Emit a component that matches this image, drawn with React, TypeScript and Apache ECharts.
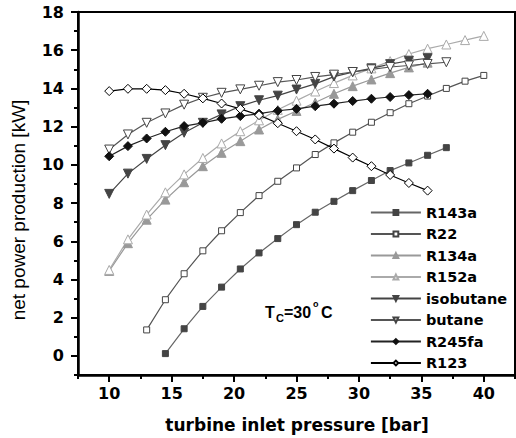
import React, { useEffect, useRef } from "react";
import * as echarts from "echarts";

// ---- data ----
const X_R143A = [14.5, 16, 17.5, 19, 20.5, 22, 23.5, 25, 26.5, 28, 29.5, 31, 32.5, 34, 35.5, 37];
const Y_R143A = [0.12, 1.42, 2.59, 3.6, 4.55, 5.39, 6.14, 6.87, 7.52, 8.09, 8.65, 9.18, 9.7, 10.1, 10.5, 10.9];

const X_R22 = [13, 14.5, 16, 17.5, 19, 20.5, 22, 23.5, 25, 26.5, 28, 29.5, 31, 32.5, 34, 35.5, 37, 38.5, 40];
const Y_R22 = [1.36, 2.94, 4.3, 5.5, 6.55, 7.5, 8.39, 9.14, 9.84, 10.54, 11.15, 11.71, 12.23, 12.73, 13.2, 13.6, 14.0, 14.38, 14.68];

const X_R134A = [10, 11.5, 13, 14.5, 16, 17.5, 19, 20.5, 22, 23.5, 25, 26.5, 28, 29.5, 31, 32.5, 34, 35.5];
const Y_R134A = [4.45, 5.9, 7.13, 8.18, 9.09, 9.93, 10.63, 11.24, 11.85, 12.38, 12.82, 13.26, 13.72, 14.12, 14.47, 14.8, 15.1, 15.35];

const X_R152A = [10, 11.5, 13, 14.5, 16, 17.5, 19, 20.5, 22, 23.5, 25, 26.5, 28, 29.5, 31, 32.5, 34, 35.5, 37, 38.5, 40];
const Y_R152A = [4.5, 6.1, 7.4, 8.56, 9.5, 10.36, 11.12, 11.76, 12.33, 12.88, 13.36, 13.84, 14.28, 14.68, 15.05, 15.43, 15.8, 16.08, 16.3, 16.53, 16.75];

const X_ISOBUTANE = [10, 11.5, 13, 14.5, 16, 17.5, 19, 20.5, 22, 23.5, 25, 26.5, 28, 29.5, 31, 32.5, 34, 35.5];
const Y_ISOBUTANE = [8.48, 9.54, 10.31, 11.03, 11.68, 12.2, 12.64, 13.07, 13.38, 13.62, 13.94, 14.24, 14.62, 14.85, 15.05, 15.27, 15.45, 15.58];

const X_BUTANE = [10, 11.5, 13, 14.5, 16, 17.5, 19, 20.5, 22, 23.5, 25, 26.5, 28, 29.5, 31, 32.5, 34, 35.5, 37];
const Y_BUTANE = [10.8, 11.59, 12.2, 12.69, 13.15, 13.51, 13.77, 13.95, 14.14, 14.33, 14.44, 14.6, 14.72, 14.86, 15.0, 15.12, 15.2, 15.28, 15.37];

const X_R245FA = [10, 11.5, 13, 14.5, 16, 17.5, 19, 20.5, 22, 23.5, 25, 26.5, 28, 29.5, 31, 32.5, 34, 35.5];
const Y_R245FA = [10.45, 10.98, 11.38, 11.73, 12.03, 12.2, 12.41, 12.55, 12.68, 12.83, 12.93, 13.07, 13.2, 13.34, 13.46, 13.55, 13.65, 13.72];

const X_R123 = [10, 11.5, 13, 14.5, 16, 17.5, 19, 20.5, 22, 23.5, 25, 26.5, 28, 29.5, 31, 32.5, 34, 35.5];
const Y_R123 = [13.86, 13.98, 13.98, 13.91, 13.72, 13.48, 13.21, 12.93, 12.6, 12.18, 11.76, 11.33, 10.85, 10.38, 9.93, 9.47, 9.05, 8.65];

const SERIES_NAMES = ["R143a", "R22", "R134a", "R152a", "isobutane", "butane", "R245fa", "R123"];

const X_TITLE = "turbine inlet pressure [bar]";
const Y_TITLE = "net power production [kW]";

const DOWN_TRI = "path://M0,0L10,0L5,10Z";

function pairs(xs: number[], ys: number[]) {
  return xs.map((x, i) => [x, ys[i]]);
}

export default function App() {
  const ref = useRef<HTMLDivElement>(null);

  useEffect(() => {
    if (!ref.current) return;
    const chart = echarts.init(ref.current, null, { renderer: "svg" });

    const tickFont = { fontFamily: "DejaVu Sans", fontWeight: "bold" as const, fontSize: 16, color: "#000" };

    const mk = (
      name: string,
      xs: number[],
      ys: number[],
      symbol: string,
      size: number,
      fill: string,
      border: string,
      line: string
    ) => ({
      name,
      type: "line",
      xAxisIndex: 0,
      yAxisIndex: 0,
      data: pairs(xs, ys),
      symbol,
      symbolSize: size,
      showAllSymbol: true,
      itemStyle: { color: fill, borderColor: border, borderWidth: 1 },
      lineStyle: { color: line, width: 1.2 },
      emphasis: { disabled: true },
    });

    const ppu = (516 - 78 - 1) / 35;
    const ppv = (438 - 12 - 63) / 19;

    chart.setOption({
      animation: false,
      grid: [
        { left: 78, right: 1, top: 12, bottom: 63, show: true, borderColor: "#000", borderWidth: 2 },
        { left: 78 + 2.5 * ppu, right: 1 + 2.5 * ppu, top: 12, bottom: 63 + ppv, show: false },
      ],
      xAxis: [
        {
          gridIndex: 0,
          type: "value",
          min: 7.5,
          max: 42.5,
          interval: 2.5,
          axisLine: { show: true, onZero: false, lineStyle: { color: "#000", width: 2.5 } },
          axisTick: { show: true, length: 4, lineStyle: { color: "#000", width: 2 } },
          axisLabel: { show: false },
          splitLine: { show: false },
        },
        {
          gridIndex: 1,
          type: "value",
          min: 10,
          max: 40,
          interval: 5,
          offset: ppv,
          axisLine: { show: false, onZero: false },
          axisTick: { show: true, length: 7, lineStyle: { color: "#000", width: 2 } },
          axisLabel: { show: true, margin: 10, ...tickFont },
          splitLine: { show: false },
        },
      ],
      yAxis: [
        {
          gridIndex: 0,
          type: "value",
          min: -1,
          max: 18,
          interval: 1,
          axisLine: { show: true, onZero: false, lineStyle: { color: "#000", width: 2.5 } },
          axisTick: { show: true, length: 4, lineStyle: { color: "#000", width: 2 } },
          axisLabel: { show: false },
          splitLine: { show: false },
        },
        {
          gridIndex: 1,
          type: "value",
          min: 0,
          max: 18,
          interval: 2,
          offset: 2.5 * ppu,
          axisLine: { show: false, onZero: false },
          axisTick: { show: true, length: 7, lineStyle: { color: "#000", width: 2 } },
          axisLabel: { show: true, margin: 14, ...tickFont },
          splitLine: { show: false },
        },
      ],
      legend: {
        orient: "vertical",
        left: 370,
        top: 205,
        padding: 0,
        itemWidth: 50,
        itemHeight: 6,
        itemGap: 6.5,
        data: SERIES_NAMES,
        lineStyle: { width: 1.8 },
        textStyle: { fontFamily: "DejaVu Sans", fontWeight: "bold", fontSize: 14.5, color: "#000" },
      },
      series: [
        mk(SERIES_NAMES[0], X_R143A, Y_R143A, "rect", 6, "#444", "#444", "#666"),
        mk(SERIES_NAMES[1], X_R22, Y_R22, "rect", 6, "#fff", "#444", "#555"),
        mk(SERIES_NAMES[2], X_R134A, Y_R134A, "triangle", 9, "#999", "#999", "#999"),
        mk(SERIES_NAMES[3], X_R152A, Y_R152A, "triangle", 9, "#fff", "#aaa", "#aaa"),
        mk(SERIES_NAMES[4], X_ISOBUTANE, Y_ISOBUTANE, DOWN_TRI, 9, "#444", "#444", "#444"),
        mk(SERIES_NAMES[5], X_BUTANE, Y_BUTANE, DOWN_TRI, 9, "#fff", "#444", "#555"),
        mk(SERIES_NAMES[6], X_R245FA, Y_R245FA, "diamond", 9, "#111", "#111", "#222"),
        mk(SERIES_NAMES[7], X_R123, Y_R123, "diamond", 9, "#fff", "#000", "#000"),
      ],
      graphic: [
        {
          type: "text",
          x: 18,
          y: 210,
          rotation: Math.PI / 2,
          style: {
            text: Y_TITLE,
            font: "19px 'Liberation Sans'",
            fill: "#000",
            align: "center",
            verticalAlign: "middle",
          },
        },
        {
          type: "text",
          x: 297,
          y: 425,
          style: {
            text: X_TITLE,
            font: "bold 17px 'DejaVu Sans'",
            fill: "#000",
            align: "center",
            verticalAlign: "middle",
          },
        },
        {
          type: "text",
          x: 265,
          y: 312,
          style: { text: "T", font: "bold 16px 'Liberation Sans'", fill: "#000", verticalAlign: "middle" },
        },
        {
          type: "text",
          x: 276,
          y: 318,
          style: { text: "C", font: "bold 11px 'Liberation Sans'", fill: "#000", verticalAlign: "middle" },
        },
        {
          type: "text",
          x: 284,
          y: 312,
          style: { text: "=30", font: "bold 16px 'Liberation Sans'", fill: "#000", verticalAlign: "middle" },
        },
        {
          type: "text",
          x: 313,
          y: 304,
          style: { text: "o", font: "bold 9px 'Liberation Sans'", fill: "#000", verticalAlign: "middle" },
        },
        {
          type: "text",
          x: 321,
          y: 312,
          style: { text: "C", font: "bold 16px 'Liberation Sans'", fill: "#000", verticalAlign: "middle" },
        },
      ],
    });

    return () => chart.dispose();
  }, []);

  return (
    <div
      ref={ref}
      style={{ position: "fixed", left: 0, top: 0, width: 516, height: 438, background: "#fff" }}
    />
  );
}
